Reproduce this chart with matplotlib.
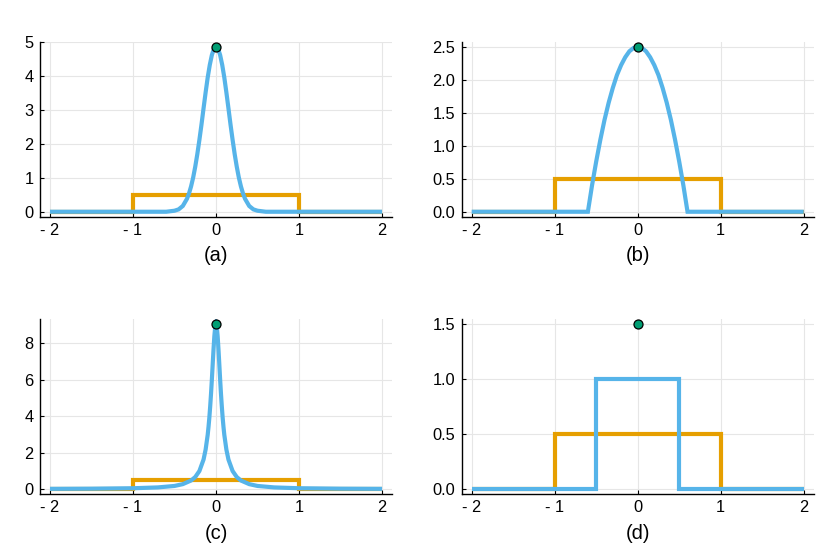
import matplotlib
matplotlib.use("Agg")
import matplotlib.pyplot as plt

plt.rcParams['font.family'] = ['Liberation Sans', 'DejaVu Sans']

# values
box_x = [-2, -1, -1, 1, 1, 2]
box_y = [0, 0, 0.5, 0.5, 0, 0]

gauss_x = [-2.0, -0.6, -0.5, -0.45, -0.4, -0.35, -0.325, -0.3, -0.275, -0.25, -0.225, -0.2,
           -0.175, -0.15, -0.125, -0.1, -0.075, -0.05, -0.025, 0.0,
           0.025, 0.05, 0.075, 0.1, 0.125, 0.15, 0.175, 0.2, 0.225, 0.25,
           0.275, 0.3, 0.325, 0.35, 0.4, 0.45, 0.5, 0.6, 2.0]
gauss_y = [0.0, 0.0, 0.03, 0.07, 0.17, 0.38, 0.54, 0.75, 1.01, 1.33, 1.70, 2.12,
           2.57, 3.05, 3.52, 3.96, 4.33, 4.62, 4.81, 4.87,
           4.81, 4.62, 4.33, 3.96, 3.52, 3.05, 2.57, 2.12, 1.70, 1.33,
           1.01, 0.75, 0.54, 0.38, 0.17, 0.07, 0.03, 0.0, 0.0]
gauss_peak = 4.87

para_x = [-2.0, -0.6, -0.55, -0.5, -0.45, -0.4, -0.35, -0.3, -0.25, -0.2, -0.15, -0.1, -0.05, 0.0,
          0.05, 0.1, 0.15, 0.2, 0.25, 0.3, 0.35, 0.4, 0.45, 0.5, 0.55, 0.6, 2.0]
para_y = [0.0, 0.0, 0.40, 0.76, 1.09, 1.39, 1.65, 1.875, 2.07, 2.22, 2.34, 2.43, 2.48, 2.5,
          2.48, 2.43, 2.34, 2.22, 2.07, 1.875, 1.65, 1.39, 1.09, 0.76, 0.40, 0.0, 0.0]
para_peak = 2.5

lor_x = [-2.0, -1.5, -1.0, -0.7, -0.5, -0.4, -0.3, -0.25, -0.2, -0.15, -0.125, -0.1, -0.09,
         -0.08, -0.07, -0.06, -0.05, -0.04, -0.03, -0.02, -0.01, 0.0,
         0.01, 0.02, 0.03, 0.04, 0.05, 0.06, 0.07, 0.08, 0.09, 0.1, 0.125, 0.15,
         0.2, 0.25, 0.3, 0.4, 0.5, 0.7, 1.0, 1.5, 2.0]
lor_y = [0.011, 0.020, 0.044, 0.09, 0.17, 0.27, 0.47, 0.66, 0.99, 1.62, 2.17, 2.98, 3.42,
         3.93, 4.54, 5.23, 6.00, 6.84, 7.66, 8.39, 8.89, 9.07,
         8.89, 8.39, 7.66, 6.84, 6.00, 5.23, 4.54, 3.93, 3.42, 2.98, 2.17, 1.62,
         0.99, 0.66, 0.47, 0.27, 0.17, 0.09, 0.044, 0.020, 0.011]
lor_peak = 9.07

step_x = [-2, -0.5, -0.5, 0.5, 0.5, 2]
step_y = [0, 0, 1, 1, 0, 0]
step_peak = 1.5

xticks = [-2, -1, 0, 1, 2]
xticklabels = ['- 2', '- 1', '0', '1', '2']

panels = [
    ('(a)', gauss_x, gauss_y, gauss_peak, [0, 1, 2, 3, 4, 5], ['0', '1', '2', '3', '4', '5']),
    ('(b)', para_x, para_y, para_peak, [0, 0.5, 1, 1.5, 2, 2.5], ['0.0', '0.5', '1.0', '1.5', '2.0', '2.5']),
    ('(c)', lor_x, lor_y, lor_peak, [0, 2, 4, 6, 8], ['0', '2', '4', '6', '8']),
    ('(d)', step_x, step_y, step_peak, [0, 0.5, 1, 1.5], ['0.0', '0.5', '1.0', '1.5']),
]

W, H = 830, 554
rects = [(40, 41.7), (461.7, 41.7), (40, 319), (461.7, 319)]
aw, ah = 352, 175

fig = plt.figure(figsize=(W / 100, H / 100), dpi=100)

for (label, xs, ys, peak, yt, ytl), (left, top) in zip(panels, rects):
    ax = fig.add_axes([left / W, 1 - (top + ah) / H, aw / W, ah / H])
    ax.plot(box_x, box_y, color='#E69F00', lw=3.0, solid_joinstyle='miter', solid_capstyle='butt')
    ax.plot(xs, ys, color='#56B4E9', lw=3.0, solid_joinstyle='miter', solid_capstyle='butt')
    ax.scatter([0], [peak], s=42, color='#009E73', edgecolor='black', linewidth=0.9, zorder=5)

    ax.set_xlim(-2.12, 2.12)
    ax.set_ylim(-0.03 * peak, 1.03 * peak)
    ax.set_xticks(xticks)
    ax.set_xticklabels(xticklabels)
    ax.set_yticks(yt)
    ax.set_yticklabels(ytl)
    ax.grid(True, color='#e6e6e6', lw=0.8)
    ax.set_axisbelow(True)
    for s in ['top', 'right']:
        ax.spines[s].set_visible(False)
    for s in ['left', 'bottom']:
        ax.spines[s].set_linewidth(1.0)
    ax.tick_params(direction='in', length=3, width=0.8, labelsize=11.8, pad=4.5)
    ax.set_xlabel(label, fontsize=14.5, labelpad=6)

fig.savefig('out.png', dpi=100)
